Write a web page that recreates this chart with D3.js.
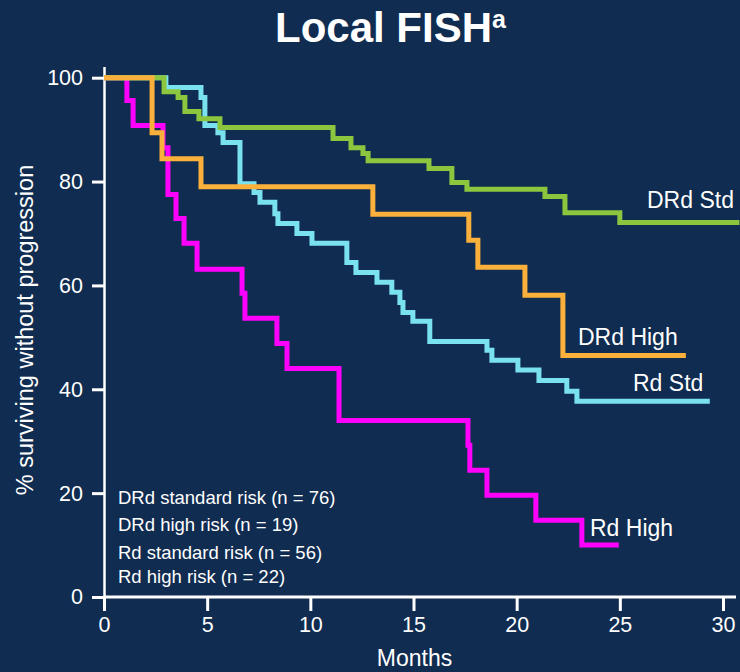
<!DOCTYPE html>
<html>
<head>
<meta charset="utf-8">
<title>Local FISH</title>
<script src="https://cdn.jsdelivr.net/npm/d3@7"></script>
<style>
	html, body { margin: 0; padding: 0; background: #102c50; }
	svg { display: block; }
	text { font-family: 'Liberation Sans', Arial, sans-serif; fill: #ffffff; }
</style>
</head>
<body>
<svg id="chart" width="740" height="672"></svg>
<script>
/*global d3*/
'use strict';

// Kaplan-Meier curves: [months, % surviving] at each drop
var drd_std = [
	[0, 100], [2.91, 97.3], [3.59, 96.2], [3.92, 93.5], [4.6, 92.1], [5.62, 90.4],
	[11.1, 88.3], [11.97, 86.5], [12.55, 85.4], [12.8, 84.0], [15.75, 82.5],
	[16.86, 79.8], [17.59, 78.5], [21.37, 77.1], [22.34, 74.0], [25.0, 72.1], [30.8, 72.1]
];
var drd_high = [
	[0, 100], [2.33, 89.4], [2.81, 84.4], [4.7, 79.0], [13.03, 73.7], [17.68, 68.7],
	[18.12, 63.5], [20.4, 58.1], [22.24, 46.5], [28.2, 46.5]
];
var rd_std = [
	[0, 100], [3.0, 98.1], [4.7, 96.2], [4.89, 90.8], [5.52, 89.4], [5.77, 87.5],
	[6.59, 79.6], [7.27, 77.9], [7.56, 76.0], [8.28, 73.8], [8.43, 71.9], [9.35, 70.0],
	[10.08, 68.1], [11.77, 64.4], [12.21, 62.5], [13.23, 60.6], [13.95, 58.7],
	[14.34, 56.7], [14.49, 54.8], [14.97, 53.1], [15.79, 49.2], [18.56, 47.5],
	[18.8, 45.6], [20.06, 43.7], [21.08, 41.7], [22.43, 39.6], [22.92, 37.7], [29.36, 37.7]
];
var rd_high = [
	[0, 100], [1.11, 95.6], [1.41, 90.8], [2.86, 86.5], [3.1, 77.5], [3.49, 72.9],
	[3.88, 68.1], [4.51, 63.1], [6.69, 58.5], [6.83, 53.7], [8.38, 48.8], [8.87, 44.0],
	[11.39, 34.0], [17.64, 29.2], [17.73, 24.4], [18.56, 19.6], [20.93, 14.8],
	[23.16, 10.0], [24.95, 10.0]
];

// Series in drawing order (last one on top)
var series = [
	{ name: 'Rd High', data: rd_high, colour: '#ff00ff', label_xy: [590, 536] },
	{ name: 'Rd Std', data: rd_std, colour: '#7ae1ee', label_xy: [633, 391] },
	{ name: 'DRd Std', data: drd_std, colour: '#8cc63f', label_xy: [647, 208] },
	{ name: 'DRd High', data: drd_high, colour: '#fbb03b', label_xy: [578, 345] }
];

var legend_lines = [
	'DRd standard risk (n = 76)',
	'DRd high risk (n = 19)',
	'Rd standard risk (n = 56)',
	'Rd high risk (n = 22)'
];
var legend_baselines = [504, 531, 559, 583];

var x_ticks = [0, 5, 10, 15, 20, 25, 30];
var y_ticks = [0, 20, 40, 60, 80, 100];


//===============================================================
// Draw the chart
//===============================================================

var svg = d3.select('#chart');

var x_scale = d3.scaleLinear().domain([0, 30]).range([104, 723]);
var y_scale = d3.scaleLinear().domain([0, 100]).range([597, 77.7]);

// Title with superscript
var title = svg.append('text')
	.attr('x', 275)
	.attr('y', 42)
	.style('font-weight', 'bold')
	.style('font-size', '42px');
title.append('tspan').text('Local FISH');
title.append('tspan')
	.attr('dy', -14)
	.style('font-size', '25px')
	.text('a');

// Axes
var x_axis = d3.axisBottom(x_scale)
	.tickValues(x_ticks)
	.tickSize(14)
	.tickSizeOuter(0)
	.tickPadding(6);
var y_axis = d3.axisLeft(y_scale)
	.tickValues(y_ticks)
	.tickSize(12)
	.tickSizeOuter(0)
	.tickPadding(9);

var gx = svg.append('g')
	.attr('transform', 'translate(0,' + y_scale(0) + ')')
	.call(x_axis);
var gy = svg.append('g')
	.attr('transform', 'translate(' + x_scale(0) + ',0)')
	.call(y_axis);

[gx, gy].forEach(function(g) {
	g.select('.domain').remove();
	g.selectAll('.tick line')
		.attr('stroke', '#ffffff')
		.attr('stroke-width', 3);
	g.selectAll('.tick text')
		.attr('fill', '#ffffff')
		.style('font-family', "'Liberation Sans', Arial, sans-serif")
		.style('font-size', '21.5px');
});

// Axis lines drawn by hand so they can run past the last tick
svg.append('line')
	.attr('x1', x_scale(0)).attr('x2', 736)
	.attr('y1', y_scale(0)).attr('y2', y_scale(0))
	.attr('stroke', '#ffffff')
	.attr('stroke-width', 3);
svg.append('line')
	.attr('x1', x_scale(0) + 0.5).attr('x2', x_scale(0) + 0.5)
	.attr('y1', y_scale(0) + 1.5).attr('y2', 67)
	.attr('stroke', '#ffffff')
	.attr('stroke-width', 2.5);

svg.append('text')
	.attr('x', 414.5)
	.attr('y', 666)
	.attr('text-anchor', 'middle')
	.style('font-size', '23px')
	.text('Months');

svg.append('text')
	.attr('transform', 'translate(33,330) rotate(-90)')
	.attr('text-anchor', 'middle')
	.style('font-size', '23.5px')
	.text('% surviving without progression');

// Step curves
var km_line = d3.line()
	.x(function(d) { return x_scale(d[0]); })
	.y(function(d) { return y_scale(d[1]); })
	.curve(d3.curveStepAfter);

svg.selectAll('path.km')
	.data(series)
	.enter().append('path')
	.attr('class', 'km')
	.attr('d', function(d) { return km_line(d.data); })
	.attr('fill', 'none')
	.attr('stroke', function(d) { return d.colour; })
	.attr('stroke-width', 5)
	.attr('stroke-linejoin', 'miter');

// Curve labels
svg.selectAll('text.curve-label')
	.data(series)
	.enter().append('text')
	.attr('class', 'curve-label')
	.attr('x', function(d) { return d.label_xy[0]; })
	.attr('y', function(d) { return d.label_xy[1]; })
	.style('font-size', '23px')
	.text(function(d) { return d.name; });

// Group sizes, bottom left
svg.selectAll('text.legend')
	.data(legend_lines)
	.enter().append('text')
	.attr('class', 'legend')
	.attr('x', 118)
	.attr('y', function(d, i) { return legend_baselines[i]; })
	.style('font-size', '18.5px')
	.text(function(d) { return d; });
</script>
</body>
</html>
